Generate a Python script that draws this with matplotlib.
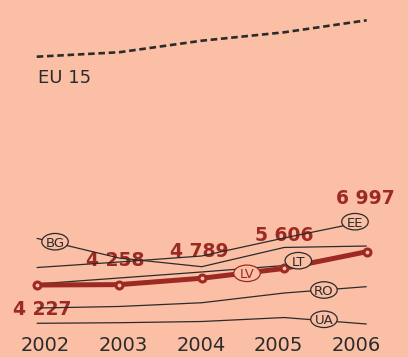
import matplotlib
matplotlib.use("Agg")
import matplotlib.pyplot as plt
from matplotlib.patches import Ellipse
from matplotlib.transforms import ScaledTranslation

years = [2002, 2003, 2004, 2005, 2006]
year_labels = ["2002", "2003", "2004", "2005", "2006"]

lv = [4227, 4258, 4789, 5606, 6997]
eu15 = [23220, 23590, 24550, 25250, 26250]
bg = [8110, 6470, 5750, 7350, 7470]
ee = [5680, 6140, 6640, 8140, 9550]
lt = [4310, 4810, 5310, 5850, 6970]
ro = [2310, 2440, 2750, 3560, 4090]
ua = [1040, 1090, 1190, 1520, 980]

lv_labels = ["4 227", "4 258", "4 789", "5 606", "6 997"]

BG = "#FBBFA6"
RED = "#9C2A23"
DARK = "#2b2b2b"

fig = plt.figure(figsize=(4.08, 3.57), dpi=100)
fig.patch.set_facecolor(BG)
ax = fig.add_axes([0, 0, 1, 1])
ax.set_facecolor(BG)
ax.set_xlim(2001.555, 2006.5006)
ax.set_ylim(-1763, 27937)
ax.axis("off")

# thin country lines
for s in [bg, ee, lt, ro, ua]:
    ax.plot(years, s, color=DARK, lw=0.9, zorder=2, solid_capstyle="butt")

# EU 15 dotted
ax.plot(years, eu15, color=DARK, lw=1.9, ls=(0, (2.5, 1.4)), zorder=2)
ax.annotate("EU 15", (years[0], eu15[0]), xytext=(1.6, -26.6),
            textcoords="offset pixels", ha="left", va="baseline",
            fontsize=13, color=DARK, family="DejaVu Sans")

# LV thick line
ax.plot(years, lv, color=RED, lw=3.6, zorder=3, solid_capstyle="butt")
ax.plot(years, lv, ls="none", marker="o", ms=5, mew=2.2, mec=RED, mfc=BG, zorder=4)

# value labels
offsets = [(5.8, -30), (-4.3, 19), (-2.7, 21), (-0.4, 27), (-1.4, 47.7)]
for x, v, t, off in zip(years, lv, lv_labels, offsets):
    ax.annotate(t, (x, v), xytext=off, textcoords="offset pixels",
                ha="center", va="baseline", fontsize=13.5, fontweight="bold",
                color=RED, zorder=1.5, family="DejaVu Sans")

# ellipse labels
country_tags = [("BG", 2002.222, 7830, DARK),
                ("EE", 2005.858, 9494, DARK),
                ("LT", 2005.171, 6249, DARK),
                ("LV", 2004.549, 5200, RED),
                ("RO", 2005.482, 3811, DARK),
                ("UA", 2005.482, 1373, DARK)]
for name, x, y, c in country_tags:
    tr = fig.dpi_scale_trans + ScaledTranslation(x, y, ax.transData)
    e = Ellipse((0, 0), 0.265, 0.165, transform=tr, facecolor=BG,
                edgecolor=c, lw=0.9, zorder=5)
    ax.add_patch(e)
    ax.text(x, y, name, ha="center", va="center_baseline", fontsize=9.5,
            color=c, zorder=6, family="DejaVu Sans")

# year tick labels on a separate axis
ax2 = fig.add_axes([0, 22 / 357, 1, 0.001])
ax2.set_facecolor("none")
ax2.set_xlim(2001.422, 2006.66)
ax2.set_xticks(years)
ax2.set_xticklabels(year_labels, fontsize=14, color=DARK, family="DejaVu Sans")
ax2.tick_params(axis="x", length=0, pad=1)
ax2.set_yticks([])
for sp in ax2.spines.values():
    sp.set_visible(False)

fig.savefig("out.png", dpi=100, facecolor=BG)
